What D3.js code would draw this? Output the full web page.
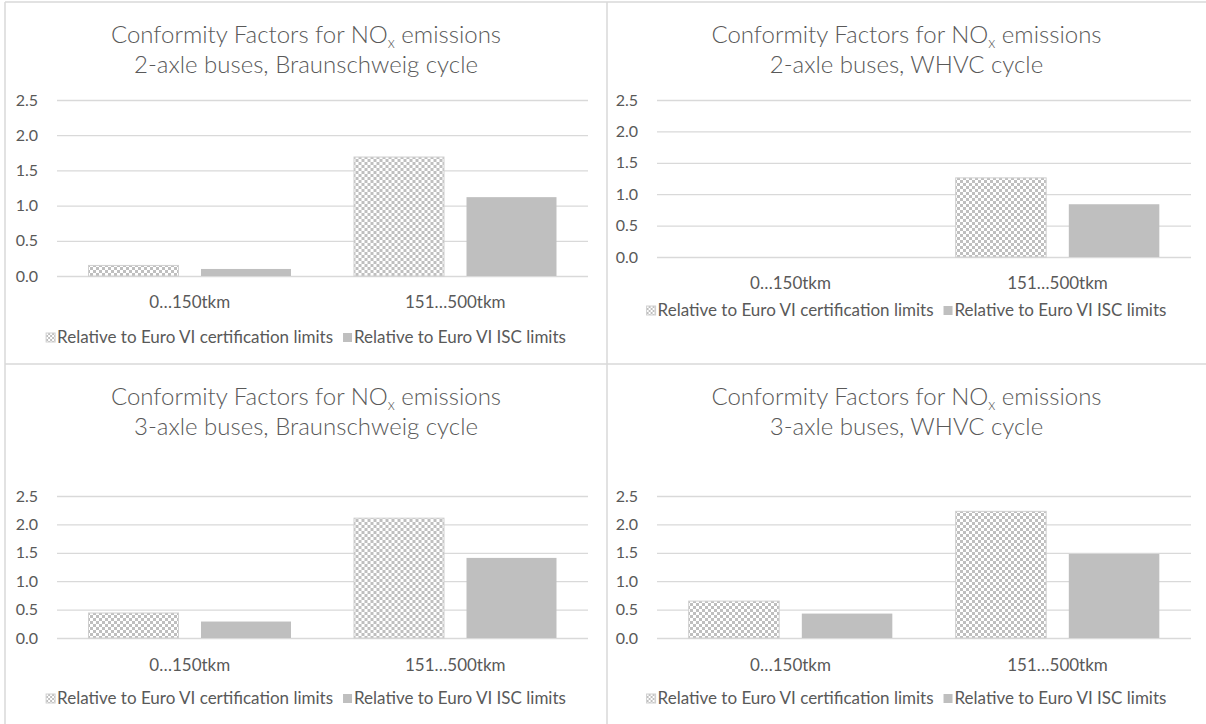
<!DOCTYPE html>
<html>
<head>
<meta charset="utf-8">
<script src="https://cdn.jsdelivr.net/npm/d3@7"></script>
<style>
  body { margin: 0; background: #fff; }
  svg { display: block; font-family: Lato, 'Open Sans', sans-serif; }
</style>
</head>
<body>
<div id="container"></div>
<script>
// data
const categories = ['0…150tkm', '151…500tkm'];
const seriesNames = ['Relative to Euro VI certification limits', 'Relative to Euro VI ISC limits'];
const subtitles = [
  '2-axle buses, Braunschweig cycle',
  '2-axle buses, WHVC cycle',
  '3-axle buses, Braunschweig cycle',
  '3-axle buses, WHVC cycle',
];
const certValues = [[0.15, 1.69], [0, 1.26], [0.44, 2.11], [0.65, 2.23]];
const iscValues = [[0.10, 1.12], [0, 0.84], [0.29, 1.41], [0.43, 1.48]];
const yTicks = [0, 0.5, 1.0, 1.5, 2.0, 2.5];

const width = 1206;
const height = 724;
const textColor = '#595959';
const gridColor = '#d9d9d9';
const barGray = '#bfbfbf';

// panel layout
const panels = [
  { x0: 5, x1: 607, t1: 43, t2: 73, left: 57, right: 588, top: 100, bottom: 276, catY: 308, legY: 343 },
  { x0: 607, x1: 1206, t1: 43, t2: 73, left: 657, right: 1191, top: 100, bottom: 257, catY: 289, legY: 316 },
  { x0: 5, x1: 607, t1: 405, t2: 435, left: 57, right: 588, top: 496, bottom: 638, catY: 671, legY: 704 },
  { x0: 607, x1: 1206, t1: 405, t2: 435, left: 657, right: 1191, top: 496, bottom: 638, catY: 671, legY: 704 },
];

const svg = d3.select('#container')
  .append('svg')
  .attr('width', width)
  .attr('height', height);

// checker pattern
const defs = svg.append('defs');
const pat = defs.append('pattern')
  .attr('id', 'checker')
  .attr('patternUnits', 'userSpaceOnUse')
  .attr('width', 6)
  .attr('height', 6);
pat.append('rect').attr('width', 6).attr('height', 6).attr('fill', '#fff');
pat.append('rect').attr('width', 3).attr('height', 3).attr('fill', barGray);
pat.append('rect').attr('x', 3).attr('y', 3).attr('width', 3).attr('height', 3).attr('fill', barGray);

const pat2 = defs.append('pattern')
  .attr('id', 'checkerSmall')
  .attr('patternUnits', 'userSpaceOnUse')
  .attr('width', 4)
  .attr('height', 4);
pat2.append('rect').attr('width', 4).attr('height', 4).attr('fill', '#fff');
pat2.append('rect').attr('width', 2).attr('height', 2).attr('fill', barGray);
pat2.append('rect').attr('x', 2).attr('y', 2).attr('width', 2).attr('height', 2).attr('fill', barGray);

// borders
const borders = svg.append('g').attr('stroke', gridColor).attr('stroke-width', 1.5);
borders.append('line').attr('x1', 5).attr('x2', width).attr('y1', 2).attr('y2', 2);
borders.append('line').attr('x1', 5).attr('x2', 5).attr('y1', 2).attr('y2', height);
borders.append('line').attr('x1', 607).attr('x2', 607).attr('y1', 2).attr('y2', height);
borders.append('line').attr('x1', 5).attr('x2', width).attr('y1', 364).attr('y2', 364);

const fills = ['url(#checker)', barGray];

panels.forEach((p, pi) => {
  const g = svg.append('g');
  const cx = (p.x0 + p.x1) / 2;

  // title
  const t = g.append('text')
    .attr('x', cx)
    .attr('y', p.t1)
    .attr('text-anchor', 'middle')
    .attr('fill', textColor)
    .attr('font-size', 24)
    .attr('font-weight', 300);
  t.append('tspan').text('Conformity Factors for NO');
  t.append('tspan').attr('font-size', 15).attr('dy', 5).text('x');
  t.append('tspan').attr('dy', -5).text(' emissions');
  g.append('text')
    .attr('x', cx)
    .attr('y', p.t2)
    .attr('text-anchor', 'middle')
    .attr('fill', textColor)
    .attr('font-size', 24)
    .attr('font-weight', 300)
    .text(subtitles[pi]);

  const y = d3.scaleLinear().domain([0, 2.5]).range([p.bottom, p.top]);
  const x0 = d3.scaleBand().domain(categories).range([p.left, p.right]);
  const x1 = d3.scaleBand().domain(seriesNames).range([0, x0.bandwidth()])
    .paddingInner(0.2).paddingOuter(0.28);

  // y axis with gridlines
  const yAxis = g.append('g')
    .attr('transform', `translate(${p.left},0)`)
    .call(d3.axisLeft(y).tickValues(yTicks).tickFormat(d3.format('.1f'))
      .tickSize(-(p.right - p.left)).tickPadding(19));
  yAxis.select('.domain').remove();
  yAxis.selectAll('.tick line').attr('stroke', gridColor).attr('stroke-width', 1.3);
  yAxis.selectAll('.tick text')
    .attr('fill', textColor)
    .attr('font-size', 16)
    .attr('font-family', 'Lato, sans-serif');

  // bars
  const groups = g.selectAll('.cat')
    .data(categories)
    .join('g')
    .attr('transform', (d) => `translate(${x0(d)},0)`);
  groups.selectAll('rect')
    .data((d, ci) => [certValues[pi][ci], iscValues[pi][ci]])
    .join('rect')
    .attr('x', (d, si) => x1(seriesNames[si]))
    .attr('width', x1.bandwidth())
    .attr('y', (d) => y(d))
    .attr('height', (d) => y(0) - y(d))
    .attr('fill', (d, si) => fills[si])
    .attr('stroke', (d, si) => (si === 0 ? '#cfcfcf' : 'none'))
    .attr('stroke-width', 1)
    .style('display', (d) => (d > 0 ? null : 'none'));

  // category labels
  g.selectAll('.catlabel')
    .data(categories)
    .join('text')
    .attr('x', (d) => x0(d) + x0.bandwidth() / 2)
    .attr('y', p.catY)
    .attr('text-anchor', 'middle')
    .attr('fill', textColor)
    .attr('font-size', 17)
    .text((d) => d);

  // legend
  const leg = g.append('g');
  let lx = 0;
  seriesNames.forEach((name, si) => {
    const item = leg.append('g').attr('transform', `translate(${lx},0)`);
    item.append('rect')
      .attr('x', 0)
      .attr('y', -10)
      .attr('width', 9)
      .attr('height', 9)
      .attr('fill', si === 0 ? 'url(#checkerSmall)' : barGray)
      .attr('stroke', si === 0 ? '#cfcfcf' : 'none');
    const txt = item.append('text')
      .attr('x', 11)
      .attr('y', 0)
      .attr('fill', textColor)
      .attr('font-size', 17)
      .text(name);
    lx += 11 + txt.node().getComputedTextLength() + 10;
  });
  const legW = lx - 10;
  leg.attr('transform', `translate(${cx - legW / 2},${p.legY})`);
});
</script>
</body>
</html>
